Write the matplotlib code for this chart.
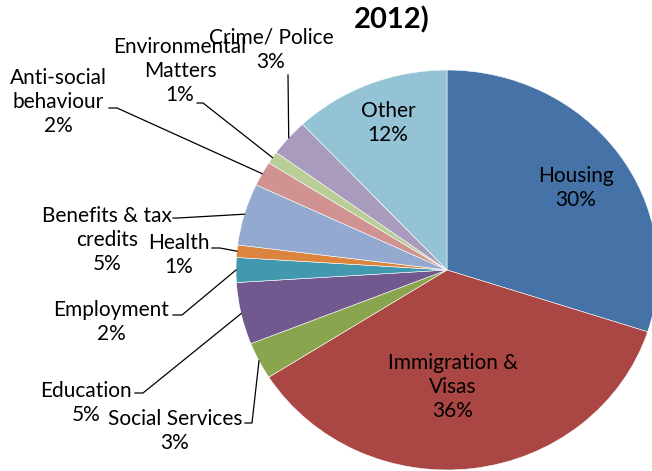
import matplotlib.pyplot as plt
import numpy as np

# enquiry categories, clockwise from 12 o'clock
categories = ['Housing', 'Immigration &\nVisas', 'Social Services', 'Education',
              'Employment', 'Health', 'Benefits & tax\ncredits', 'Anti-social\nbehaviour',
              'Environmental\nMatters', 'Crime/ Police', 'Other']
shares = [30, 36, 3, 5, 2, 1, 5, 2, 1, 3, 12]
colors = ['#4572A7', '#AA4643', '#89A54E', '#71588F', '#4198AF', '#DB843D',
          '#93A9CF', '#D19392', '#B9CD96', '#A99BBD', '#93C3D5']

# label placement in figure pixels (x, y from top)
label_pos = [(576, 188), (453, 387), (175, 431), (86, 403), (111, 322), (179, 255),
             (107, 240), (58, 102), (180, 71), (271, 50), (388, 123)]
# start of leader line next to the label and its elbow (pixels)
leaders = {2: [(245, 423), (252, 423)], 3: [(135, 393), (143, 393)],
           4: [(173, 315), (182, 315)], 5: [(212, 248), (220, 248)],
           6: [(173, 218), (178, 218)], 7: [(109, 108), (117, 108)],
           8: [(197, 103), (203, 103)], 9: [(288, 75), (288, 75)]}

W, H = 652, 471
fig = plt.figure(figsize=(W / 100, H / 100), dpi=100)

# pie axes: centre (447, 270), radii 211 x 200 px
cx, cy, rx, ry = 447, 270, 211, 200
ax = fig.add_axes([(cx - rx) / W, (H - cy - ry) / H, 2 * rx / W, 2 * ry / H])
wedges, _ = ax.pie(shares, colors=colors, startangle=90, counterclock=False,
                   wedgeprops=dict(edgecolor='white', linewidth=0.4))
ax.set_xlim(-1, 1)
ax.set_ylim(-1, 1)
ax.set_aspect('auto')
ax.axis('off')

# overlay in pixel coordinates for labels and leaders
ov = fig.add_axes([0, 0, 1, 1])
ov.set_xlim(0, W)
ov.set_ylim(H, 0)
ov.axis('off')
ov.patch.set_alpha(0)

font = 'Lato'
for i, (cat, val) in enumerate(zip(categories, shares)):
    x, y = label_pos[i]
    ov.text(x, y, f'{cat}\n{val}%', ha='center', va='center', fontsize=15,
            family=font, color='black', linespacing=1.25, zorder=3 + (i == 9))
    if i in leaders:
        w = wedges[i]
        mid = np.deg2rad((w.theta1 + w.theta2) / 2)
        disp = ax.transData.transform((np.cos(mid), np.sin(mid)))
        ex, ey = ov.transData.inverted().transform(disp)
        (sx, sy), (bx, by) = leaders[i]
        ov.plot([sx, bx, ex], [sy, by, ey], color='black', lw=0.9, zorder=2)

ov.text(392, 20, '2012)', ha='center', va='center', fontsize=21,
        family=font, fontweight='bold', color='black')

fig.savefig('out.png', dpi=100)
